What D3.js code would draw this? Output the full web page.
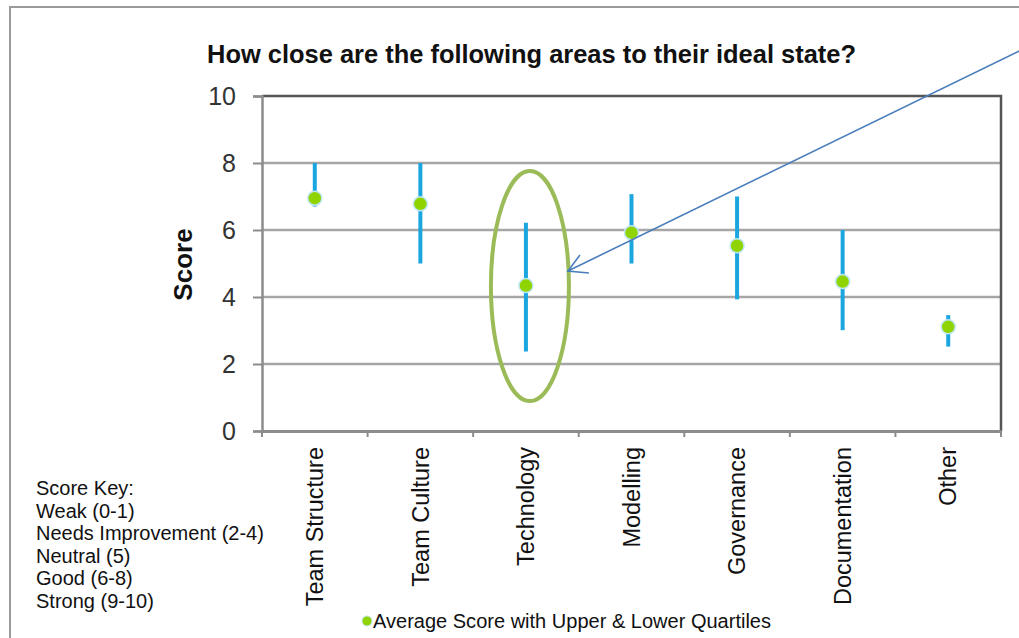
<!DOCTYPE html>
<html>
<head>
<meta charset="utf-8">
<script src="https://cdn.jsdelivr.net/npm/d3@7"></script>
<style>
    body { margin: 0; background: #fff; }
    svg { display: block; font-family: "Liberation Sans", Arial, sans-serif; }
</style>
</head>
<body>
<div id="chart"></div>
<script>
// data
const categories = ["Team Structure", "Team Culture", "Technology", "Modelling", "Governance", "Documentation", "Other"];
const averages = [6.95, 6.78, 4.34, 5.92, 5.53, 4.46, 3.11];
const upperQuartiles = [8.0, 8.0, 6.22, 7.07, 7.0, 6.0, 3.46];
const lowerQuartiles = [6.7, 5.0, 2.37, 5.0, 3.93, 3.01, 2.52];
const yTicks = [0, 2, 4, 6, 8, 10];
const scoreKey = ["Score Key:", "Weak (0-1)", "Needs Improvement (2-4)", "Neutral (5)", "Good (6-8)", "Strong (9-10)"];
const highlighted = "Technology";

window.addEventListener("load", function () {
    drawChart();
});

function drawChart() {
    const width = 1019, height = 638;
    const plotLeft = 262, plotRight = 1001, plotTop = 96, plotBottom = 431;

    const svg = d3.select("#chart")
        .append("svg")
        .attr("width", width)
        .attr("height", height);

    // outer frame (runs off the right / bottom)
    svg.append("rect")
        .attr("x", 10).attr("y", 7)
        .attr("width", 1100).attr("height", 700)
        .attr("fill", "none")
        .attr("stroke", "#9a9a9a")
        .attr("stroke-width", 2);

    const x = d3.scaleBand()
        .domain(categories)
        .range([plotLeft, plotRight]);

    const y = d3.scaleLinear()
        .domain([0, 10])
        .range([plotBottom, plotTop]);

    // gridlines
    svg.append("g")
        .selectAll("line")
        .data(yTicks.filter(d => d > 0 && d < 10))
        .join("line")
        .attr("x1", plotLeft).attr("x2", plotRight)
        .attr("y1", d => y(d)).attr("y2", d => y(d))
        .attr("stroke", "#a6a6a6")
        .attr("stroke-width", 2.5);

    // top + right border
    svg.append("path")
        .attr("d", `M${plotLeft},${y(10)}H${plotRight}V${plotBottom}`)
        .attr("fill", "none")
        .attr("stroke", "#555")
        .attr("stroke-width", 2.5);

    // y axis
    const yAxisG = svg.append("g")
        .attr("transform", `translate(${plotLeft},0)`)
        .call(d3.axisLeft(y).tickValues(yTicks).tickSize(9).tickPadding(17));
    yAxisG.select(".domain").attr("stroke", "#8c8c8c").attr("stroke-width", 2.5);
    yAxisG.selectAll(".tick line").attr("stroke", "#8c8c8c").attr("stroke-width", 2);
    yAxisG.selectAll(".tick text")
        .style("font-size", "25px")
        .style("font-family", "\"Liberation Sans\", Arial, sans-serif")
        .attr("fill", "#333");

    // x axis
    const xAxisG = svg.append("g")
        .attr("transform", `translate(0,${plotBottom})`)
        .call(d3.axisBottom(x).tickSize(0).tickSizeOuter(0));
    xAxisG.select(".domain").attr("stroke", "#8c8c8c").attr("stroke-width", 3);
    xAxisG.selectAll(".tick text")
        .attr("transform", "rotate(-90)")
        .attr("x", -16)
        .attr("y", 0)
        .attr("dy", "0.35em")
        .attr("text-anchor", "end")
        .attr("fill", "#111")
        .style("font-size", "23.5px")
        .style("font-family", "\"Liberation Sans\", Arial, sans-serif");

    // tick marks on band boundaries
    svg.append("g")
        .selectAll("line")
        .data(categories)
        .join("line")
        .attr("x1", d => x(d)).attr("x2", d => x(d))
        .attr("y1", plotBottom).attr("y2", plotBottom + 6)
        .attr("stroke", "#8c8c8c")
        .attr("stroke-width", 2);
    svg.append("line")
        .attr("x1", plotRight).attr("x2", plotRight)
        .attr("y1", plotBottom).attr("y2", plotBottom + 6)
        .attr("stroke", "#8c8c8c")
        .attr("stroke-width", 2);

    const rows = categories.map((c, i) => ({
        cat: c, avg: averages[i], hi: upperQuartiles[i], lo: lowerQuartiles[i]
    }));
    const cx = d => x(d.cat) + x.bandwidth() / 2;

    // quartile bars
    svg.append("g")
        .selectAll("line")
        .data(rows)
        .join("line")
        .attr("x1", cx).attr("x2", cx)
        .attr("y1", d => y(d.hi)).attr("y2", d => y(d.lo))
        .attr("stroke", "#1ba6e0")
        .attr("stroke-width", 4);

    // average points
    svg.append("g")
        .selectAll("circle")
        .data(rows)
        .join("circle")
        .attr("cx", cx)
        .attr("cy", d => y(d.avg))
        .attr("r", 7)
        .attr("fill", "#8fd400")
        .attr("stroke", "#bfe6f5")
        .attr("stroke-width", 1.5);

    // title
    svg.append("text")
        .attr("x", 207).attr("y", 63)
        .attr("textLength", 649)
        .attr("lengthAdjust", "spacingAndGlyphs")
        .style("font-size", "26px")
        .style("font-weight", "bold")
        .attr("fill", "#111")
        .text("How close are the following areas to their ideal state?");

    // y label
    svg.append("text")
        .attr("transform", `translate(192,${(plotTop + plotBottom) / 2 + 1}) rotate(-90)`)
        .attr("text-anchor", "middle")
        .style("font-size", "26px")
        .style("font-weight", "bold")
        .attr("fill", "#111")
        .text("Score");

    // score key
    svg.append("g")
        .selectAll("text")
        .data(scoreKey)
        .join("text")
        .attr("x", 36)
        .attr("y", (d, i) => 495 + i * 22.6)
        .style("font-size", "20px")
        .attr("fill", "#111")
        .text(d => d);

    // legend
    svg.append("circle")
        .attr("cx", 367).attr("cy", 621)
        .attr("r", 5)
        .attr("fill", "#8fd400")
        .attr("stroke", "#bfe6f5")
        .attr("stroke-width", 1);
    svg.append("text")
        .attr("x", 373).attr("y", 628)
        .attr("textLength", 398)
        .attr("lengthAdjust", "spacingAndGlyphs")
        .style("font-size", "20px")
        .attr("fill", "#111")
        .text("Average Score with Upper & Lower Quartiles");

    // highlight ellipse around one category
    const hl = rows.find(d => d.cat === highlighted);
    svg.append("ellipse")
        .attr("cx", cx(hl) + 4)
        .attr("cy", (y(hl.hi) + y(hl.lo)) / 2 - 1)
        .attr("rx", 39)
        .attr("ry", 115)
        .attr("fill", "none")
        .attr("stroke", "#9bbb59")
        .attr("stroke-width", 4);

    // callout arrow
    const tipX = cx(hl) + 42, tipY = 271;
    svg.append("line")
        .attr("x1", 1040).attr("y1", 41)
        .attr("x2", tipX).attr("y2", tipY)
        .attr("stroke", "#4a7ebb")
        .attr("stroke-width", 1.6);
    svg.append("path")
        .attr("d", `M${tipX + 12},${tipY - 16}L${tipX},${tipY}L${tipX + 21},${tipY + 2}`)
        .attr("fill", "none")
        .attr("stroke", "#4a7ebb")
        .attr("stroke-width", 1.6);
}
</script>
</body>
</html>
